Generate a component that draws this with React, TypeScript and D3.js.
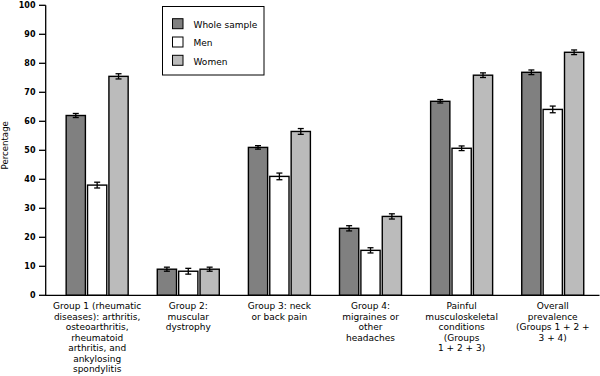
import React from "react";
import * as d3 from "d3";

const categories = [
  ["Group 1 (rheumatic", "diseases): arthritis,", "osteoarthritis,", "rheumatoid", "arthritis, and", "ankylosing", "spondylitis"],
  ["Group 2:", "muscular", "dystrophy"],
  ["Group 3: neck", "or back pain"],
  ["Group 4:", "migraines or", "other", "headaches"],
  ["Painful", "musculoskeletal", "conditions", "(Groups", "1 + 2 + 3)"],
  ["Overall", "prevalence", "(Groups 1 + 2 +", "3 + 4)"],
];
const seriesNames = ["Whole sample", "Men", "Women"];
const seriesColors = ["#808080", "#ffffff", "#bbbbbb"];
const wholeSample = [62, 9, 51, 23.1, 66.9, 76.9];
const men = [38, 8.3, 41, 15.5, 50.7, 64.1];
const women = [75.5, 9, 56.5, 27.2, 75.9, 83.8];
const wholeErr = [0.7, 0.7, 0.6, 0.9, 0.6, 0.8];
const menErr = [1.0, 1.0, 1.15, 0.9, 0.8, 1.15];
const womenErr = [0.9, 0.7, 1.0, 0.9, 0.8, 0.8];
const yTicks = [0, 10, 20, 30, 40, 50, 60, 70, 80, 90, 100];

const FONT = "'DejaVu Sans', Verdana, sans-serif";

export default function App() {
  const width = 600;
  const height = 376;
  const values = [wholeSample, men, women];
  const errs = [wholeErr, menErr, womenErr];
  const y = d3.scaleLinear().domain([0, 100]).range([295.3, 5.3]);
  const x0 = d3
    .scaleBand<number>()
    .domain(categories.map((_, i) => i))
    .range([51.6, 598.3])
    .padding(0);
  const axisX = 45.7;

  return (
    <svg
      width={width}
      height={height}
      style={{ position: "absolute", left: 0, top: 0, display: "block", background: "#fff" }}
    >
      {/* bars */}
      {categories.map((_, ci) => {
        const c = (x0(ci) as number) + x0.bandwidth() / 2;
        const x1 = d3.scaleBand<number>().domain([0, 1, 2]).range([c - 31, c + 31]).paddingInner(0.1);
        return (
          <g key={ci}>
            {values.map((arr, si) => {
              const v = arr[ci];
              const e = errs[si][ci];
              const bx = x1(si) as number;
              const bw = x1.bandwidth();
              const cx = bx + bw / 2;
              return (
                <g key={si}>
                  <rect
                    x={bx}
                    y={y(v)}
                    width={bw}
                    height={y(0) - y(v)}
                    fill={seriesColors[si]}
                    stroke="#000"
                    strokeWidth={1.4}
                  />
                  <line x1={cx} x2={cx} y1={y(v + e)} y2={y(v - e)} stroke="#000" strokeWidth={1.3} />
                  <line x1={cx - 3} x2={cx + 3} y1={y(v + e)} y2={y(v + e)} stroke="#000" strokeWidth={1.3} />
                  <line x1={cx - 3} x2={cx + 3} y1={y(v - e)} y2={y(v - e)} stroke="#000" strokeWidth={1.3} />
                </g>
              );
            })}
            <text x={c} y={309} textAnchor="middle" fontFamily={FONT} fontSize={9} fill="#000">
              {categories[ci].map((line, li) => (
                <tspan key={li} x={c} dy={li === 0 ? 0 : 10.5}>
                  {line}
                </tspan>
              ))}
            </text>
          </g>
        );
      })}

      {/* y axis */}
      <line x1={axisX} x2={axisX} y1={y(100)} y2={y(0)} stroke="#000" strokeWidth={1.3} />
      {yTicks.map((t) => (
        <g key={t}>
          <line x1={39} x2={axisX} y1={y(t)} y2={y(t)} stroke="#000" strokeWidth={1.3} />
          <text
            x={35.5}
            y={y(t)}
            dy="0.35em"
            textAnchor="end"
            fontFamily={FONT}
            fontSize={8}
            fontWeight="bold"
            fill="#000"
          >
            {t}
          </text>
        </g>
      ))}
      {/* x axis */}
      <line x1={axisX - 0.6} x2={599.5} y1={y(0)} y2={y(0)} stroke="#000" strokeWidth={1.3} />

      <text
        transform={`translate(8.3,145.3) rotate(-90)`}
        textAnchor="middle"
        fontFamily={FONT}
        fontSize={8.6}
        fill="#000"
      >
        Percentage
      </text>

      {/* legend */}
      <rect x={162.5} y={6.5} width={101.5} height={68.5} fill="#fff" stroke="#000" strokeWidth={1} />
      {seriesNames.map((name, i) => (
        <g key={name}>
          <rect
            x={172.5}
            y={18.7 + i * 18.3}
            width={10.5}
            height={10}
            fill={seriesColors[i]}
            stroke="#000"
            strokeWidth={1}
          />
          <text x={193.5} y={28 + i * 18.3} fontFamily={FONT} fontSize={9} fill="#000">
            {name}
          </text>
        </g>
      ))}
    </svg>
  );
}
